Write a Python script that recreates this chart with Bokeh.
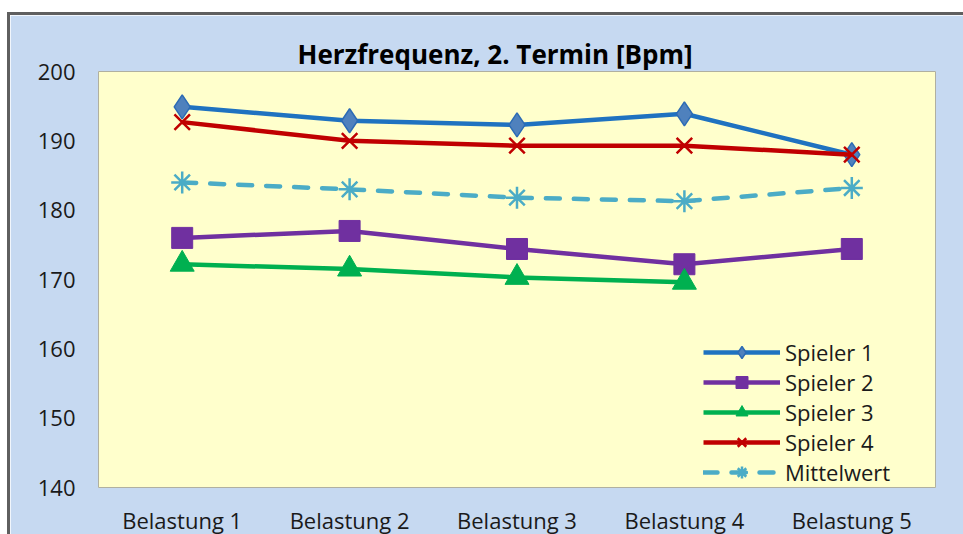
from bokeh.plotting import figure
from bokeh.models import FactorRange, Range1d, FixedTicker, Legend, Title
from bokeh.embed import file_html
from bokeh.resources import INLINE

categories = ["Belastung 1", "Belastung 2", "Belastung 3", "Belastung 4", "Belastung 5"]
spieler1 = [194.9, 192.9, 192.3, 193.9, 188.0]
spieler2 = [176.0, 177.0, 174.4, 172.2, 174.4]
spieler3 = [172.2, 171.5, 170.3, 169.6, float("nan")]
spieler4 = [192.7, 190.0, 189.3, 189.3, 188.0]
mittelwert = [184.0, 183.0, 181.8, 181.3, 183.2]
y_ticks = [140, 150, 160, 170, 180, 190, 200]
title_text = "Herzfrequenz, 2. Termin [Bpm]"

BG = "#C6D9F1"
PLOT_BG = "#FFFFCC"
FONT = "Open Sans"

p = figure(x_range=FactorRange(*categories, range_padding=0), y_range=Range1d(140, 200),
           width=956, height=522, output_backend="svg", toolbar_location=None,
           min_border_left=88, min_border_right=31, min_border_top=56, min_border_bottom=49)
p.styles = {"margin-top": "12px", "margin-left": "7px",
            "border-top": "3px solid #5F5F5F", "border-left": "3px solid #5F5F5F"}
p.background_fill_color = PLOT_BG
p.border_fill_color = BG
p.outline_line_color = "#B0B0A0"
p.outline_line_width = 1
p.xgrid.grid_line_color = None
p.ygrid.grid_line_color = None

p.yaxis.ticker = FixedTicker(ticks=y_ticks)
for ax in (p.xaxis[0], p.yaxis[0]):
    ax.axis_line_color = None
    ax.major_tick_line_color = None
    ax.minor_tick_line_color = None
    ax.major_label_text_font = FONT
    ax.major_label_text_font_size = "22px"
    ax.major_label_text_color = "#1a1a1a"
p.yaxis.major_label_standoff = 17
p.xaxis.major_label_standoff = 11

x = categories
lw = 4.5
l1 = p.line(x, spieler1, line_color="#1F72C0", line_width=lw)
m1 = p.scatter(x, spieler1, marker="diamond", size=24, fill_color="#4F81BD", line_color="#2C6BB5", line_width=1.5)
l2 = p.line(x, spieler2, line_color="#7030A0", line_width=lw)
m2 = p.scatter(x, spieler2, marker="square", size=21, fill_color="#7030A0", line_color="#7030A0")
l3 = p.line(x, spieler3, line_color="#00B050", line_width=lw)
x3 = [c for c, v in zip(x, spieler3) if v == v]
y3 = [v for v in spieler3 if v == v]
m3 = p.scatter(x3, y3, marker="triangle", size=24, fill_color="#00B050", line_color="#00B050")
l4 = p.line(x, spieler4, line_color="#C00000", line_width=lw)
m4 = p.scatter(x, spieler4, marker="x", size=22, line_color="#C00000", line_width=2.5)
l5 = p.line(x, mittelwert, line_color="#4BACC6", line_width=lw, line_dash="14 14", line_cap="round")
m5 = p.scatter(x, mittelwert, marker="asterisk", size=22, line_color="#4BACC6", line_width=2.5)

legend = Legend(items=[("Spieler 1", [l1, m1]), ("Spieler 2", [l2, m2]), ("Spieler 3", [l3, m3]),
                       ("Spieler 4", [l4, m4]), ("Mittelwert", [l5, m5])],
                location=(605, 0), background_fill_alpha=0, border_line_color=None,
                padding=0, spacing=0, glyph_width=77, glyph_height=30, label_height=20,
                label_standoff=5, label_text_font=FONT, label_text_font_size="22px",
                label_text_color="#1a1a1a", margin=0)
p.add_layout(legend)

p.title = Title(text=title_text, align="left", offset=199, vertical_align="bottom",
                standoff=0, text_font=FONT, text_font_style="bold",
                text_font_size="26px", text_color="#000000")

open("out.html", "w").write(file_html(p, INLINE))
